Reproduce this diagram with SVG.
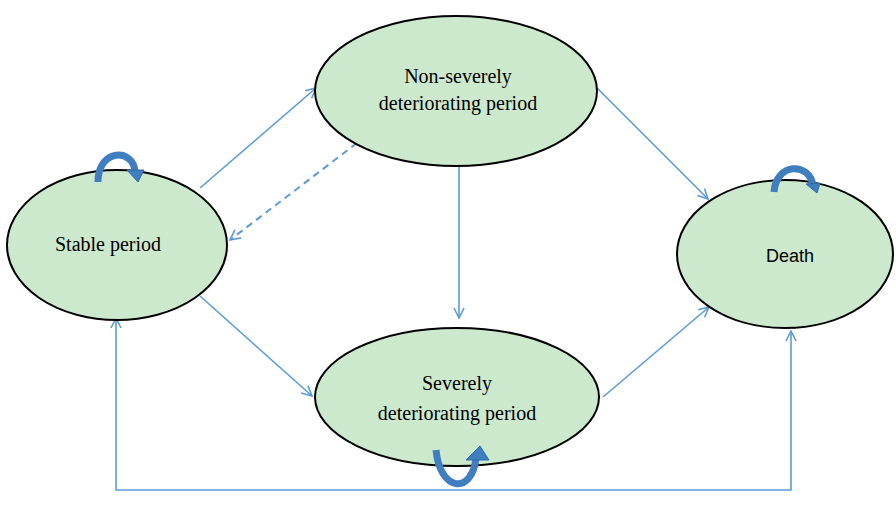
<svg xmlns="http://www.w3.org/2000/svg" width="896" height="517" viewBox="0 0 896 517">
<defs>
<style>
.node{fill:#cce8cd;stroke:#000;stroke-width:2}
.lbl{font-family:"Liberation Serif","Times New Roman",serif;font-size:20px;fill:#000;text-anchor:middle}
.lbls{font-family:"Liberation Sans",Arial,sans-serif;font-size:18px;fill:#000;text-anchor:middle}
.conn{fill:none;stroke:#5b9bd5;stroke-width:1.6}
.dash{stroke-dasharray:7,5;stroke-width:2}
.loop{fill:none;stroke:#3f7fc0;stroke-width:7}
.loophead{fill:#3f7fc0;stroke:#2f6aa8;stroke-width:1}
</style>
<marker id="arr" viewBox="0 0 12 12" refX="11" refY="6" markerWidth="12" markerHeight="12" markerUnits="userSpaceOnUse" orient="auto-start-reverse">
<path d="M1,1 L11,6 L1,11" fill="none" stroke="#5b9bd5" stroke-width="1.6"/>
</marker>
</defs>
<rect width="896" height="517" fill="#fff"/>
<g id="connectors">
<line class="conn" x1="200" y1="188" x2="316" y2="88" marker-end="url(#arr)"/>
<line class="conn dash" x1="357" y1="143" x2="230" y2="240" marker-end="url(#arr)"/>
<line class="conn" x1="597" y1="88" x2="708" y2="199" marker-end="url(#arr)"/>
<line class="conn" x1="459" y1="166" x2="459" y2="318" marker-end="url(#arr)"/>
<line class="conn" x1="200" y1="296" x2="312" y2="396" marker-end="url(#arr)"/>
<line class="conn" x1="603" y1="397" x2="709" y2="307" marker-end="url(#arr)"/>
<polyline class="conn" points="116,318 116,490 791,490 791,331" marker-start="url(#arr)" marker-end="url(#arr)"/>
</g>
<g id="stable">
<ellipse class="node" cx="117" cy="245" rx="110" ry="75"/>
<text class="lbl" x="108" y="251">Stable period</text>
<path class="loop" d="M98,182 C98,148 134,148 135,172"/>
<polygon class="loophead" points="127,170 144,170 138,182"/>
</g>
<g id="nonsevere">
<ellipse class="node" cx="456" cy="91" rx="141" ry="75"/>
<text class="lbl" x="458" y="83">Non-severely</text>
<text class="lbl" x="458" y="110">deteriorating period</text>
</g>
<g id="severe">
<ellipse class="node" cx="457" cy="397" rx="142" ry="69"/>
<text class="lbl" x="457" y="390">Severely</text>
<text class="lbl" x="457" y="420">deteriorating period</text>
<path class="loop" d="M436,450 C440,492 472,495 476,458"/>
<polygon class="loophead" points="466,460 489,460 480,446"/>
</g>
<g id="death">
<ellipse class="node" cx="785" cy="254" rx="108" ry="74"/>
<text class="lbls" x="790" y="262">Death</text>
<path class="loop" d="M774,192 C776,162 810,162 813,186"/>
<polygon class="loophead" points="806,184 820,183 817,193"/>
</g>
</svg>
